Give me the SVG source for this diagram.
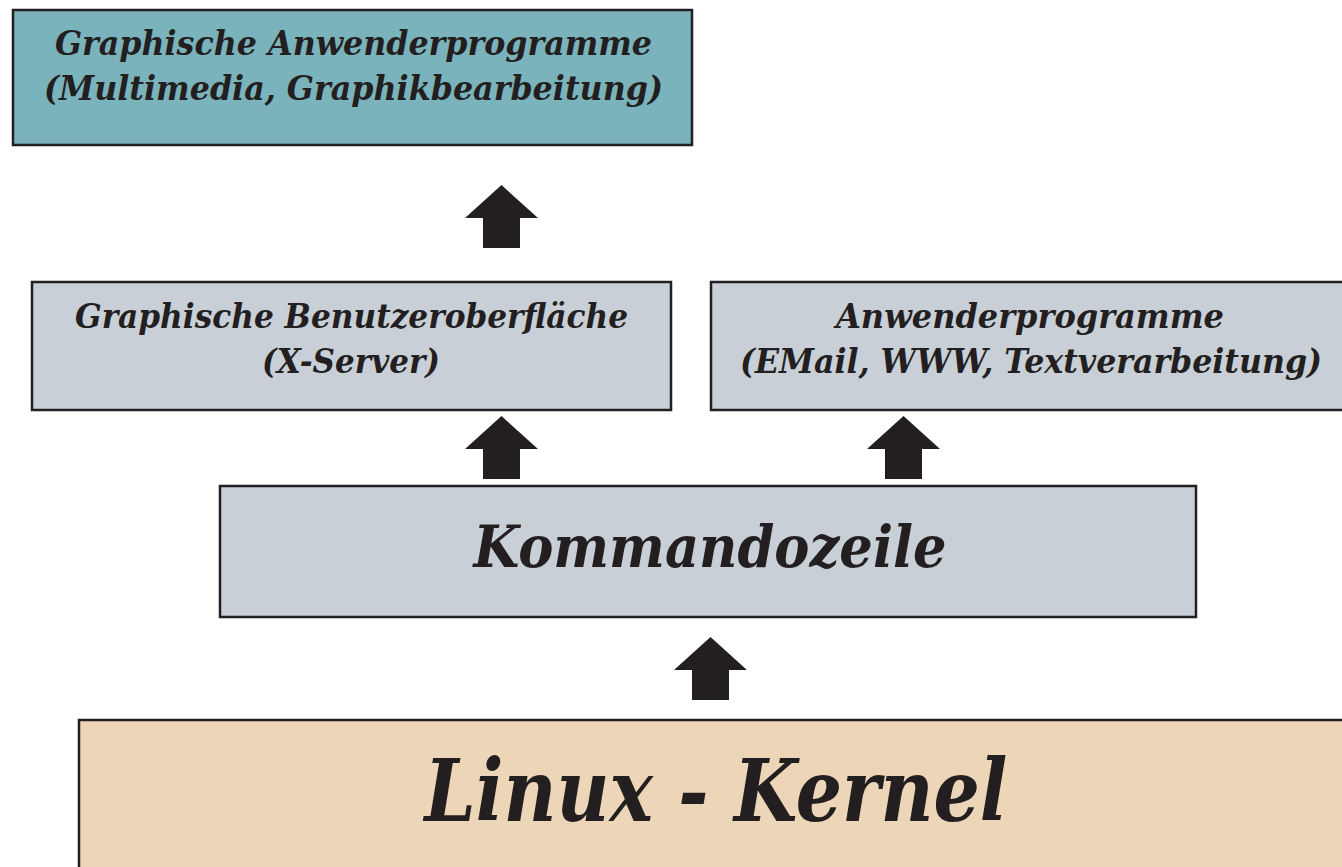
<svg xmlns="http://www.w3.org/2000/svg" xmlns:xlink="http://www.w3.org/1999/xlink" width="1342" height="867" viewBox="0 0 1342 867">
<style>
.box{stroke:#231f20;stroke-width:2.5}
.teal{fill:#7ab3bb}
.gray{fill:#c8cfd6}
.beige{fill:#edd6b8}
.t{font-family:"DejaVu Serif","Liberation Serif",serif;font-style:italic;font-weight:bold;fill:#231f20;text-anchor:middle}
.s{font-size:34px}
.arrow{fill:#231f20}
</style>
<defs>
<path id="up" d="M0,0 L36.5,33 L18.5,33 L18.5,63 L-18.5,63 L-18.5,33 L-36.5,33 Z"/>
</defs>
<rect width="1342" height="867" fill="#ffffff"/>
<g id="connectors" class="arrow">
<use xlink:href="#up" href="#up" transform="translate(501.5,185)"/>
<use xlink:href="#up" href="#up" transform="translate(501.5,416)"/>
<use xlink:href="#up" href="#up" transform="translate(903.5,416)"/>
<use xlink:href="#up" href="#up" transform="translate(710.5,637)"/>
</g>
<g id="graphische-anwenderprogramme">
<rect class="box teal" x="13" y="10" width="679" height="135"/>
<text class="t s" x="353.5" y="55" textLength="597" lengthAdjust="spacingAndGlyphs">Graphische Anwenderprogramme</text>
<text class="t s" x="353.5" y="100" textLength="619" lengthAdjust="spacingAndGlyphs">(Multimedia, Graphikbearbeitung)</text>
</g>
<g id="x-server">
<rect class="box gray" x="32" y="282" width="639" height="128"/>
<text class="t s" x="351.5" y="328" textLength="553" lengthAdjust="spacingAndGlyphs">Graphische Benutzeroberfläche</text>
<text class="t s" x="351" y="373" textLength="178" lengthAdjust="spacingAndGlyphs">(X-Server)</text>
</g>
<g id="anwenderprogramme">
<rect class="box gray" x="711" y="282" width="640" height="128"/>
<text class="t s" x="1030" y="328" textLength="388" lengthAdjust="spacingAndGlyphs">Anwenderprogramme</text>
<text class="t s" x="1031" y="373" textLength="582" lengthAdjust="spacingAndGlyphs">(EMail, WWW, Textverarbeitung)</text>
</g>
<g id="kommandozeile">
<rect class="box gray" x="220" y="486" width="976" height="131"/>
<text class="t" style="font-size:58px" x="710" y="567" textLength="473" lengthAdjust="spacingAndGlyphs">Kommandozeile</text>
</g>
<g id="linux-kernel">
<rect class="box beige" x="79" y="720" width="1300" height="200"/>
<text class="t" style="font-size:86px" x="716" y="821" textLength="583" lengthAdjust="spacingAndGlyphs">Linux - Kernel</text>
</g>
</svg>
